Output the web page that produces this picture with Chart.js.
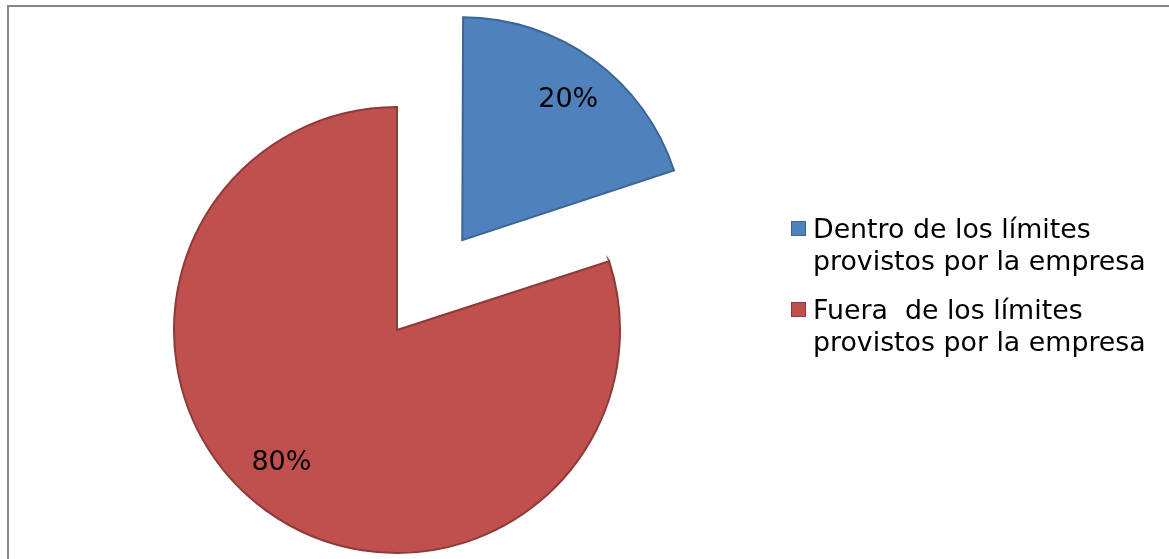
<!DOCTYPE html>
<html>
<head>
<meta charset="utf-8">
<script src="https://cdn.jsdelivr.net/npm/chart.js@4/dist/chart.umd.min.js"></script>
<style>
  html, body { margin: 0; padding: 0; background: #ffffff; overflow: hidden; }
  #wrap { position: absolute; left: 0; top: 0; width: 1169px; height: 559px; }
</style>
</head>
<body>
<div id="wrap"><canvas id="c" width="1169" height="559"></canvas></div>
<script>
// Categories (each legend entry wraps onto two lines)
const categories = [
  ['Dentro de los límites', 'provistos por la empresa'],
  ['Fuera  de los límites', 'provistos por la empresa']
];
// Percentage shares
const shares = [20, 80];
// Slice styling
const fillColors = ['#4f81bd', '#c0504d'];
const edgeColors = ['#3a6596', '#8e3a38'];
// Pull-out distance of each slice, in pixels
const explodePx = [111, 0];

const FONT = '"DejaVu Sans", Verdana, sans-serif';

// Outer chart frame
const framePlugin = {
  id: 'frame',
  beforeDraw(chart) {
    const ctx = chart.ctx;
    ctx.save();
    ctx.strokeStyle = '#868686';
    ctx.lineWidth = 2;
    ctx.beginPath();
    ctx.moveTo(8, chart.height + 2);
    ctx.lineTo(8, 6);
    ctx.lineTo(chart.width + 2, 6);
    ctx.stroke();
    ctx.restore();
  }
};

// Chart.js grows an offset arc's radius by (offset/4)*(1 - sin(circumference));
// undo that so an exploded slice keeps the same radius as the others.
const keepRadius = {
  id: 'keepRadius',
  beforeDatasetsDraw(chart) {
    const meta = chart.getDatasetMeta(0);
    const base = meta.controller.outerRadius;
    meta.data.forEach((arc, i) => {
      const circ = arc.circumference;
      const fix = 1 - Math.sin(Math.min(Math.PI, circ || 0));
      arc.outerRadius = base - (explodePx[i] || 0) * fix;
    });
  }
};

// Percentage labels placed inside each slice
const sliceLabels = {
  id: 'sliceLabels',
  afterDatasetsDraw(chart, args, opts) {
    const ctx = chart.ctx;
    const meta = chart.getDatasetMeta(0);
    const ds = chart.data.datasets[0];
    const r = meta.controller.outerRadius;
    ctx.save();
    ctx.font = '27px ' + FONT;
    ctx.fillStyle = '#000000';
    ctx.textAlign = 'center';
    ctx.textBaseline = 'middle';
    meta.data.forEach((arc, i) => {
      const mid = (arc.startAngle + arc.endAngle) / 2;
      const off = explodePx[i] || 0;
      const d = r * opts.radial;
      const ox = arc.x + Math.cos(mid) * off, oy = arc.y + Math.sin(mid) * off;
      const a = mid + (opts.turn[i] || 0) * Math.PI / 180;
      ctx.fillText(ds.data[i] + '%', ox + Math.cos(a) * d, oy + Math.sin(a) * d);
    });
    ctx.restore();
  }
};

// Legend on the right with wrapped labels
const sideLegend = {
  id: 'sideLegend',
  afterDraw(chart) {
    const ctx = chart.ctx;
    const ds = chart.data.datasets[0];
    const x0 = 791, textX = 813;
    const lineH = 32, entryGap = 49;
    let baseline = 238;
    ctx.save();
    ctx.font = '26.8px ' + FONT;
    ctx.textBaseline = 'alphabetic';
    ctx.textAlign = 'left';
    chart.data.labels.forEach((lines, i) => {
      ctx.fillStyle = ds.backgroundColor[i];
      ctx.fillRect(x0, baseline - 17, 15, 15);
      ctx.strokeStyle = ds.borderColor[i];
      ctx.lineWidth = 1;
      ctx.strokeRect(x0 + 0.5, baseline - 16.5, 14, 14);
      ctx.fillStyle = '#000000';
      lines.forEach((ln, j) => ctx.fillText(ln, textX, baseline + j * lineH));
      baseline += lineH * (lines.length - 1) + entryGap;
    });
    ctx.restore();
  }
};

new Chart(document.getElementById('c'), {
  type: 'pie',
  data: {
    labels: categories,
    datasets: [{
      data: shares,
      backgroundColor: fillColors,
      borderColor: edgeColors,
      borderWidth: 2,
      borderJoinStyle: 'miter',
      // arcs are translated by offset / 4
      offset: explodePx.map(v => v * 4),
      hoverOffset: 0,
      clip: false
    }]
  },
  options: {
    responsive: false,
    animation: false,
    radius: 223,
    layout: { padding: { left: 0, right: 375, top: 101, bottom: 0 } },
    plugins: {
      legend: { display: false },
      tooltip: { enabled: false },
      sliceLabels: { radial: 0.79, turn: [1, 5] }
    },
    events: []
  },
  plugins: [framePlugin, keepRadius, sliceLabels, sideLegend]
});
</script>
</body>
</html>
